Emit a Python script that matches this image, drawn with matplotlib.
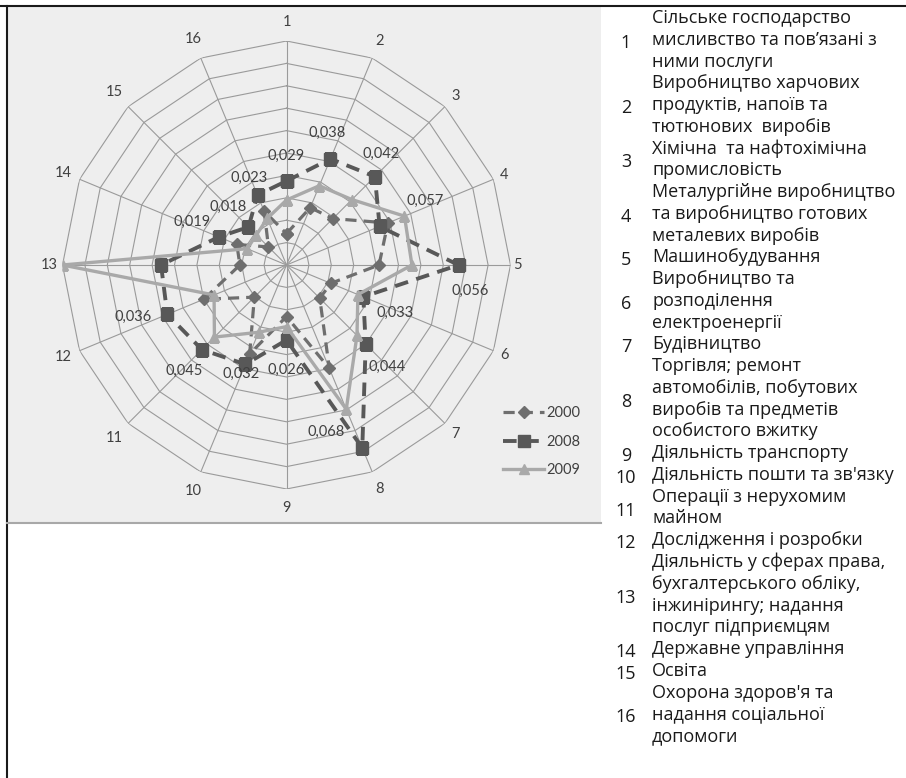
import numpy as np
import matplotlib
matplotlib.use('Agg')
import matplotlib.pyplot as plt
from matplotlib.patches import Rectangle
from matplotlib.lines import Line2D

# chart values, in ring units (10 rings, outer ring = 10)
categories = [str(i) for i in range(1, 17)]
years = ['2000', '2008', '2009']
v2000 = [1.4, 2.77, 2.93, 4.9, 4.13, 2.14, 2.1, 5.0, 2.3, 4.3, 2.03, 4.0, 2.08, 2.4, 1.14, 2.6]
v2008 = [3.75, 5.13, 5.58, 4.5, 7.68, 3.71, 5.0, 8.84, 3.35, 4.8, 5.34, 5.76, 5.6, 3.27, 2.4, 3.38]
v2009 = [2.9, 3.83, 4.13, 5.7, 5.6, 3.45, 4.45, 6.97, 2.75, 3.25, 4.55, 3.5, 10.0, 1.9, 1.9, 2.25]

# data labels shown for 2008 (None = no label)
labels2008 = ['0,029', '0,038', '0,042', '0,057', '0,056', '0,033', '0,044', '0,068',
              '0,026', '0,032', '0,045', '0,036', None, '0,019', '0,018', '0,023']
label_offsets = [(0, 25), (-3, 26), (6, 23), (46, 26), (12, -26), (32, -16), (21, -23), (-36, 16),
                 (0, -30), (-4, -10), (-18, -21), (-34, -3), (0, 0), (-27, 15), (-20, 20), (-8, 17)]

# side legend of industries
industry_lines = [
    ('1', ['Сільське господарство', 'мисливство та пов\u2019язані з', 'ними послуги']),
    ('2', ['Виробництво харчових', 'продуктів, напоїв та', 'тютюнових  виробів']),
    ('3', ['Хімічна  та нафтохімічна', 'промисловість']),
    ('4', ['Металургійне виробництво', 'та виробництво готових', 'металевих виробів']),
    ('5', ['Машинобудування']),
    ('6', ['Виробництво та', 'розподілення', 'електроенергії']),
    ('7', ['Будівництво']),
    ('8', ['Торгівля; ремонт', 'автомобілів, побутових', 'виробів та предметів', 'особистого вжитку']),
    ('9', ['Діяльність транспорту']),
    ('10', ['Діяльність пошти та зв\'язку']),
    ('11', ['Операції з нерухомим', 'майном']),
    ('12', ['Дослідження і розробки']),
    ('13', ['Діяльність у сферах права,', 'бухгалтерського обліку,', 'інжинірингу; надання', 'послуг підприємцям']),
    ('14', ['Державне управління']),
    ('15', ['Освіта']),
    ('16', ['Охорона здоров\'я та', 'надання соціальної', 'допомоги']),
]

W, H = 906, 778
fig = plt.figure(figsize=(W / 100, H / 100), dpi=100)

def fx(px):
    return px / W

def fy(py):
    return 1 - py / H

# grey chart panel and borders
fig.patches.append(Rectangle((fx(7), fy(523)), fx(594), 516 / H, transform=fig.transFigure,
                             facecolor='#eeeeee', edgecolor='none', zorder=-5))
fig.add_artist(Line2D([0, 1], [fy(6), fy(6)], transform=fig.transFigure, color='#1a1a1a', lw=1.5, zorder=-4))
fig.add_artist(Line2D([fx(7), fx(7)], [0, fy(6)], transform=fig.transFigure, color='#1a1a1a', lw=1.5, zorder=-4))
fig.add_artist(Line2D([fx(7), fx(601)], [fy(523), fy(523)], transform=fig.transFigure, color='#a8a8a8',
                      lw=1.5, zorder=-4))

cx, cy, R = 286.5, 265, 224
ax = fig.add_axes([fx(cx - R), fy(cy + R), 2 * R / W, 2 * R / H], projection='polar')
ax.patch.set_alpha(0)
ax.set_theta_offset(np.pi / 2)
ax.set_theta_direction(-1)
ax.set_ylim(0, 10)
ax.grid(False)
ax.spines['polar'].set_visible(False)
ax.set_xticks([])
ax.set_yticks([])

n = len(categories)
angles = np.arange(n) * 2 * np.pi / n
closed = np.append(angles, angles[0])

# polygon grid
grid_c = '#9a9a9a'
for r in range(1, 11):
    ax.plot(closed, [r] * (n + 1), color=grid_c, lw=0.8, zorder=1)
for a in angles:
    ax.plot([a, a], [0, 10], color=grid_c, lw=0.8, zorder=1)

# category numbers
for a, c in zip(angles, categories):
    rr = 10.3 + 0.55 * abs(np.cos(a)) + (0.3 * abs(np.sin(a)) if len(c) > 1 else 0)
    ax.text(a, rr, c, ha='center', va='center', fontsize=10.5, color='#404040', family='Lato')

def closed_vals(v):
    return list(v) + [v[0]]

ax.plot(closed, closed_vals(v2000), color='#6e6e6e', lw=2.3, ls=(0, (3.5, 2.2)),
        marker='D', markersize=6, label=years[0], zorder=3)
ax.plot(closed, closed_vals(v2008), color='#585858', lw=2.8, ls=(0, (3.5, 2.2)),
        marker='s', markersize=9, label=years[1], zorder=4)
ax.plot(closed, closed_vals(v2009), color='#a9a9a9', lw=2.4, ls='-',
        marker='^', markersize=7, label=years[2], zorder=5)

for a, v, lab, off in zip(angles, v2008, labels2008, label_offsets):
    if lab is None:
        continue
    ax.annotate(lab, xy=(a, v), xytext=off, textcoords='offset pixels',
                ha='center', va='center', fontsize=10.5, color='#404040', family='Lato', zorder=6)

fig.legend(loc='upper left', bbox_to_anchor=(fx(490), fy(393)), frameon=False,
           prop={'family': 'Lato', 'size': 10.5}, labelcolor='#404040',
           handlelength=2.8, handletextpad=0.15, labelspacing=1.0)

# industries list on the right
y = 18
step = 21.76
for num, lines in industry_lines:
    y0 = y
    for line in lines:
        fig.text(fx(652), fy(y), line, ha='left', va='center', fontsize=13,
                 family=['Open Sans', 'DejaVu Sans'], color='#1a1a1a')
        y += step
    ymid = (y0 + y - step) / 2 + 3
    fig.text(fx(626), fy(ymid), num, ha='center', va='center', fontsize=13,
             family=['Open Sans', 'DejaVu Sans'], color='#1a1a1a')

fig.savefig('out.png', dpi=100)
